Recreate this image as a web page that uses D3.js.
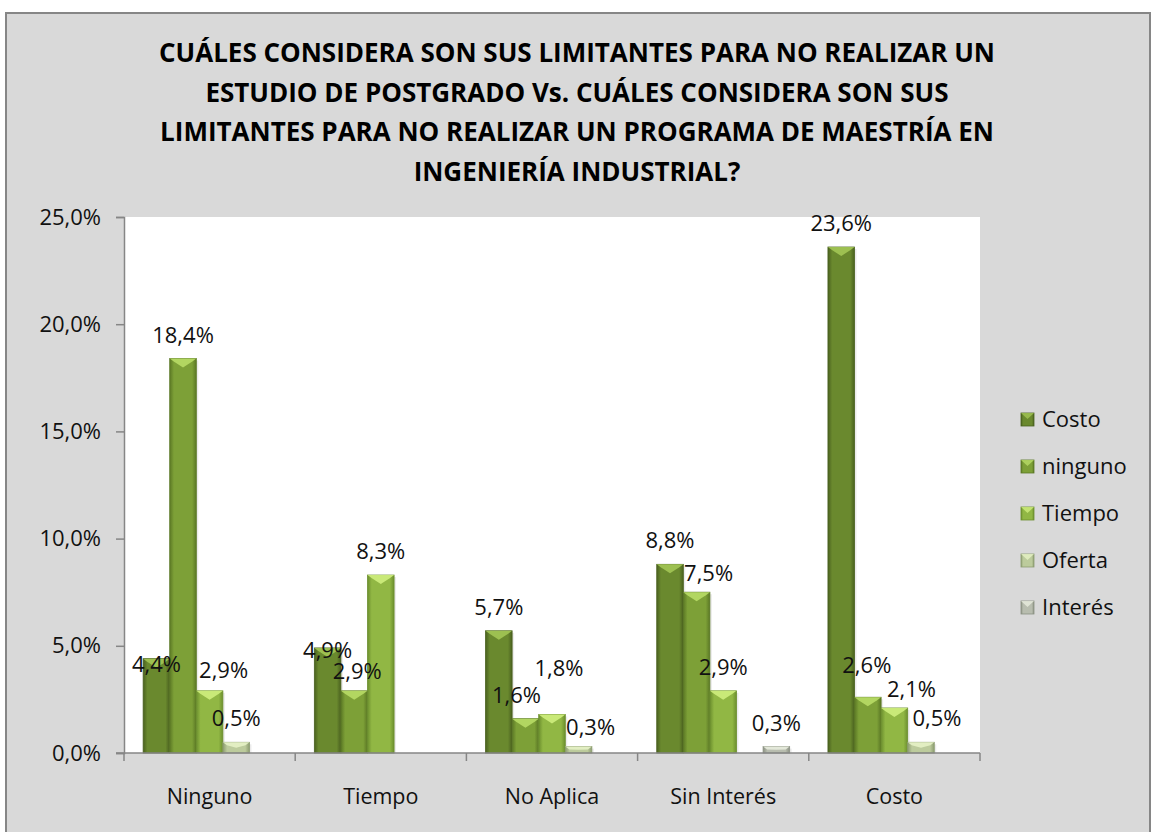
<!DOCTYPE html>
<html>
<head>
<meta charset="utf-8">
<script src="https://cdn.jsdelivr.net/npm/d3@7/dist/d3.min.js"></script>
<style>
  html, body { margin: 0; padding: 0; background: #fff; }
  svg { display: block; font-family: "Open Sans", sans-serif; }
</style>
</head>
<body>
<div id="chart"></div>
<script>
// --- data ---
const titleLines = [
  'CUÁLES CONSIDERA SON SUS LIMITANTES PARA NO REALIZAR UN',
  'ESTUDIO DE POSTGRADO Vs. CUÁLES CONSIDERA SON SUS',
  'LIMITANTES PARA NO REALIZAR UN PROGRAMA DE MAESTRÍA EN',
  'INGENIERÍA INDUSTRIAL?'
];
const categories = ['Ninguno', 'Tiempo', 'No Aplica', 'Sin Interés', 'Costo'];
const seriesNames = ['Costo', 'ninguno', 'Tiempo', 'Oferta', 'Interés'];
const costoValues = [4.4, 4.9, 5.7, 8.8, 23.6];
const ningunoValues = [18.4, 2.9, 1.6, 7.5, 2.6];
const tiempoValues = [2.9, 8.3, 1.8, 2.9, 2.1];
const ofertaValues = [0.5, null, 0.3, null, 0.5];
const interesValues = [null, null, null, 0.3, null];
const yTicks = [0, 5, 10, 15, 20, 25];

const seriesValues = [costoValues, ningunoValues, tiempoValues, ofertaValues, interesValues];

// bar colours: [edge, middle, top bevel]
const palette = {
  'Costo':   ['#4a611f', '#6a892e', '#a3c655'],
  'ninguno': ['#5b7825', '#7da037', '#b8dc66'],
  'Tiempo':  ['#6c8f2e', '#91b744', '#cfee7e'],
  'Oferta':  ['#8c9c70', '#bccb9c', '#e6f2c6'],
  'Interés': ['#8b9183', '#b8bdaf', '#e8ecde']
};

// manual label nudges (some labels were moved by hand in the original)
const labelNudge = {
  'Costo|Ninguno': [0, 29],
  'Costo|Tiempo': [0, 26],
  'ninguno|Tiempo': [3, 4],
  'Tiempo|Ninguno': [14, 3],
  'ninguno|No Aplica': [-9, 0],
  'Tiempo|No Aplica': [7, -22],
  'Oferta|No Aplica': [12, 4],
  'ninguno|Sin Interés': [12, 5],
  'ninguno|Costo': [-1, -8],
  'Tiempo|Costo': [17, 5],
  'Oferta|Costo': [16, 0]
};

const width = 1155, height = 832;
const plot = { left: 124, right: 980, top: 217, bottom: 753 };
const fmt = v => v.toFixed(1).replace('.', ',') + '%';

const svg = d3.select('#chart').append('svg')
  .attr('width', width)
  .attr('height', height);

// chart background + frame
svg.append('rect')
  .attr('x', 6).attr('y', 13)
  .attr('width', 1144).attr('height', 830)
  .attr('fill', '#d9d9d9')
  .attr('stroke', '#868686')
  .attr('stroke-width', 2);

svg.append('rect')
  .attr('x', plot.left).attr('y', plot.top)
  .attr('width', plot.right - plot.left)
  .attr('height', plot.bottom - plot.top)
  .attr('fill', '#fff');

// title
svg.append('g')
  .selectAll('text')
  .data(titleLines)
  .join('text')
  .attr('x', 577)
  .attr('y', (d, i) => 62 + i * 39.5)
  .attr('text-anchor', 'middle')
  .attr('font-size', 26)
  .attr('font-weight', 'bold')
  .attr('fill', '#000')
  .text(d => d);

// scales
const x0 = d3.scaleBand()
  .domain(categories)
  .range([plot.left, plot.right])
  .paddingInner(0).paddingOuter(0);

const x1 = d3.scaleBand()
  .domain(seriesNames)
  .range([0, x0.bandwidth()])
  .paddingInner(0).paddingOuter(0.72);

const y = d3.scaleLinear()
  .domain([0, 25])
  .range([plot.bottom, plot.top]);

// gradients
const defs = svg.append('defs');
seriesNames.forEach((s, i) => {
  const c = palette[s];
  const g = defs.append('linearGradient')
    .attr('id', 'grad' + i)
    .attr('x1', 0).attr('x2', 1).attr('y1', 0).attr('y2', 0);
  g.append('stop').attr('offset', '0%').attr('stop-color', c[0]);
  g.append('stop').attr('offset', '16%').attr('stop-color', c[1]);
  g.append('stop').attr('offset', '84%').attr('stop-color', c[1]);
  g.append('stop').attr('offset', '100%').attr('stop-color', c[0]);
});

// y axis
const yAxis = svg.append('g')
  .attr('transform', `translate(${plot.left},0)`)
  .call(d3.axisLeft(y).tickValues(yTicks).tickFormat(fmt).tickSize(8).tickPadding(15));
yAxis.select('.domain').attr('stroke', '#868686').attr('stroke-width', 1.5);
yAxis.selectAll('.tick line').attr('stroke', '#868686').attr('stroke-width', 1.5);
yAxis.selectAll('.tick text')
  .attr('font-size', 22)
  .attr('font-family', '"Open Sans", sans-serif')
  .attr('fill', '#111');

// bars
const bars = [];
seriesNames.forEach((s, si) => {
  seriesValues[si].forEach((v, ci) => {
    if (v == null) return;
    bars.push({ series: s, si, cat: categories[ci], value: v });
  });
});

const barG = svg.append('g');
const bevel = 9;
bars.forEach(d => {
  const bx = x0(d.cat) + x1(d.series);
  const bw = x1.bandwidth();
  const top = y(d.value);
  const h = plot.bottom - top;
  const g = barG.append('g');
  g.append('rect')
    .attr('x', bx + 2).attr('y', top + 2)
    .attr('width', bw).attr('height', h - 2)
    .attr('fill', '#000').attr('opacity', 0.08);
  g.append('rect')
    .attr('x', bx).attr('y', top)
    .attr('width', bw).attr('height', h)
    .attr('fill', `url(#grad${d.si})`)
    .attr('stroke', palette[d.series][0])
    .attr('stroke-width', 0.8);
  const bh = Math.min(bevel, h / 2);
  g.append('path')
    .attr('d', `M${bx},${top} L${bx + bw},${top} L${bx + bw - 4},${top + 3} L${bx + bw / 2},${top + bh} L${bx + 4},${top + 3} Z`)
    .attr('fill', palette[d.series][2])
    .attr('opacity', 0.9);
});

// x axis baseline and boundary ticks
svg.append('line')
  .attr('x1', plot.left - 8).attr('x2', plot.right)
  .attr('y1', plot.bottom).attr('y2', plot.bottom)
  .attr('stroke', '#868686').attr('stroke-width', 1.5);

const bounds = categories.map(c => x0(c)).concat([plot.right]);
svg.append('g').selectAll('line')
  .data(bounds)
  .join('line')
  .attr('x1', d => d).attr('x2', d => d)
  .attr('y1', plot.bottom).attr('y2', plot.bottom + 8)
  .attr('stroke', '#868686').attr('stroke-width', 1.5);

svg.append('g').selectAll('text')
  .data(categories)
  .join('text')
  .attr('x', d => x0(d) + x0.bandwidth() / 2)
  .attr('y', 804)
  .attr('text-anchor', 'middle')
  .attr('font-size', 21.5)
  .attr('fill', '#111')
  .text(d => d);

// data labels
svg.append('g').selectAll('text')
  .data(bars)
  .join('text')
  .attr('x', d => x0(d.cat) + x1(d.series) + x1.bandwidth() / 2 + (labelNudge[d.series + '|' + d.cat] || [0, 0])[0])
  .attr('y', d => y(d.value) - 16 + (labelNudge[d.series + '|' + d.cat] || [0, 0])[1])
  .attr('text-anchor', 'middle')
  .attr('font-size', 22)
  .attr('fill', '#111')
  .text(d => fmt(d.value));

// legend
const legend = svg.append('g').attr('transform', 'translate(1021,419)');
const items = legend.selectAll('g')
  .data(seriesNames)
  .join('g')
  .attr('transform', (d, i) => `translate(0,${i * 47})`);
items.append('rect')
  .attr('x', 0).attr('y', -6)
  .attr('width', 13).attr('height', 13)
  .attr('fill', (d, i) => `url(#grad${i})`)
  .attr('stroke', d => palette[d][0])
  .attr('stroke-width', 0.8);
items.append('path')
  .attr('d', 'M0,-6 L13,-6 L6.5,0 Z')
  .attr('fill', d => palette[d][2])
  .attr('opacity', 0.8);
items.append('text')
  .attr('x', 21)
  .attr('y', 8)
  .attr('font-size', 22)
  .attr('fill', '#111')
  .text(d => d);
</script>
</body>
</html>
